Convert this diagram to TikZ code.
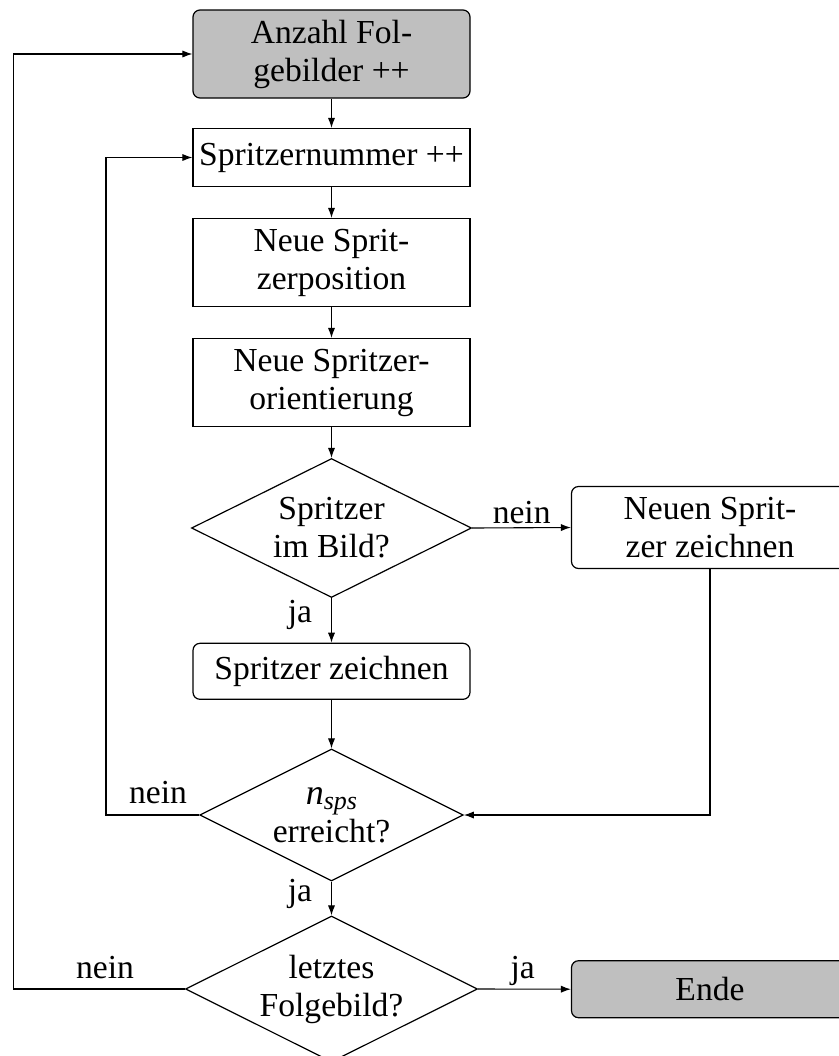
\documentclass[tikz,border=0pt]{standalone}
\usepackage{fontspec}
\setmainfont{Liberation Serif}
\usetikzlibrary{shapes.geometric,arrows.meta}

\begin{document}
\begin{tikzpicture}[x=0.5pt,y=-0.5pt,
  every node/.style={font=\fontsize{16.8}{19}\selectfont},
  line/.style={line width=0.55pt},
  arr/.style={line, -{Latex[length=5pt,width=3.6pt]}},
  proc/.style={draw, line width=0.6pt, align=center, minimum width=138.5pt, inner sep=0pt},
  rproc/.style={proc, rounded corners=3.5pt},
  term/.style={rproc, fill=gray!50},
  decision/.style={draw, line width=0.6pt, diamond, aspect=2, inner sep=0pt, align=center},
  lbl/.style={inner sep=0pt, anchor=base}]

\useasboundingbox (0,0) rectangle (839,1056);

% main column
\node[term, minimum height=44pt] (count) at (331.5,54) {Anzahl Fol-\\gebilder ++};
\node[proc, minimum height=29pt] (num) at (331.5,157.5) {Spritzernummer ++};
\node[proc, minimum height=44pt] (pos) at (331.5,262.5) {Neue Sprit-\\zerposition};
\node[proc, minimum height=44pt] (orient) at (331.5,382.5) {Neue Spritzer-\\orientierung};
\node[decision, minimum width=140pt, minimum height=69.5pt] (inimg) at (331.5,528) {Spritzer\\im Bild?};
\node[rproc, minimum height=41pt] (newdraw) at (710,527.5) {Neuen Sprit-\\zer zeichnen};
\node[rproc, minimum height=28pt] (draw) at (331.5,671.3) {Spritzer zeichnen};
\node[decision, minimum width=131.75pt, minimum height=66pt] (reached) at (331.5,815)
  {{\fontsize{18}{19}\selectfont\itshape n}{\fontsize{13}{13}\selectfont\itshape\raisebox{-2.5pt}{sps}}\\erreicht?};
\node[decision, minimum width=146pt, minimum height=73pt] (last) at (331.5,989) {letztes\\Folgebild?};
\node[term, minimum height=28.5pt] (ende) at (710,989.2) {Ende};

% loop columns
\coordinate (inner) at (106,0);
\coordinate (outer) at (13.3,0);

% connectors
\draw[arr] (count) -- (num);
\draw[arr] (num) -- (pos);
\draw[arr] (pos) -- (orient);
\draw[arr] (orient) -- (inimg);
\draw[arr] (inimg.east) -- (newdraw.west);
\draw[arr] (inimg.south) -- (draw.north);
\draw[arr] (draw.south) -- (reached.north);
\draw[arr] (newdraw.south) |- (reached.east);
\draw[arr] (reached.west) -- (reached.west -| inner) |- (num.west);
\draw[arr] (reached.south) -- (last.north);
\draw[arr] (last.east) -- (ende.west);
\draw[arr] (last.west) -- (last.west -| outer) |- (count.west);

% branch labels
\node[lbl] (l1) at (521.7,523.3) {nein};
\node[lbl] (l2) at (300,622.7) {ja};
\node[lbl] (l3) at (158,803.3) {nein};
\node[lbl] (l4) at (300,901.7) {ja};
\node[lbl] (l5) at (105,978.3) {nein};
\node[lbl] (l6) at (522.7,978) {ja};
\end{tikzpicture}
\end{document}
